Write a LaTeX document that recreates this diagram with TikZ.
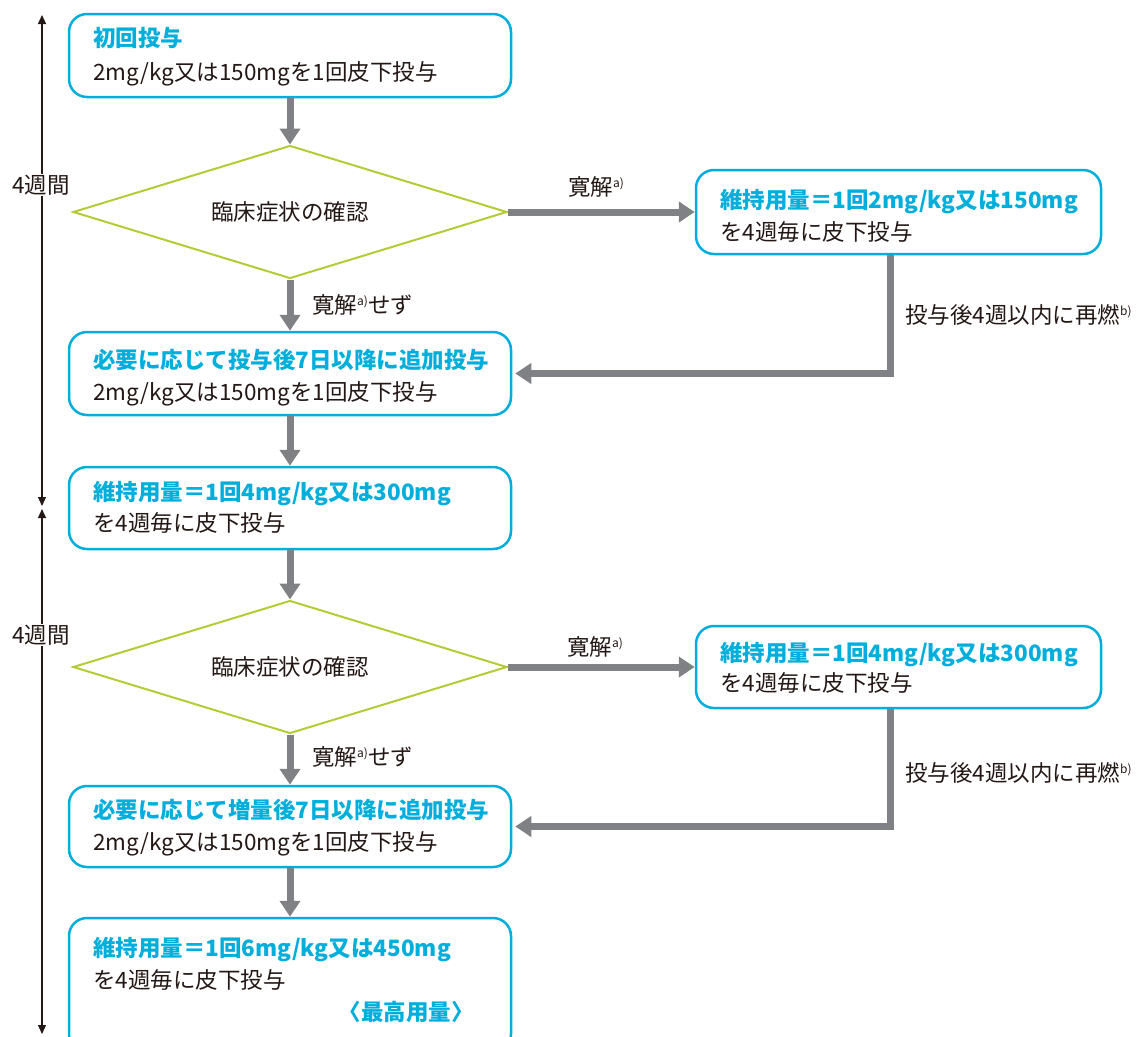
\documentclass[tikz,border=0pt]{standalone}
\usepackage{fontspec}
\setmainfont{Noto Sans CJK JP}
\usetikzlibrary{arrows.meta,shapes.geometric,calc}
\definecolor{cy}{HTML}{00AEDB}
\definecolor{yg}{HTML}{B5CB35}
\definecolor{ag}{HTML}{808184}
\definecolor{tx}{HTML}{231815}
\newcommand\fsz{\fontsize{22.5}{26}\selectfont}
\newcommand\supa[1]{\raisebox{8pt}{\fontsize{12}{12}\selectfont #1}}
\tikzset{
 box/.style={draw=cy, line width=2.5pt, rounded corners=18pt, minimum width=442pt, inner sep=0pt, fill=white},
 dia/.style={diamond, aspect=3.26, draw=yg, line width=2pt, minimum width=434pt, minimum height=133pt, inner sep=0pt, font=\fsz, text=tx},
 flow/.style={draw=ag, line width=7pt, -{Triangle[width=20pt,length=16pt]}, line join=miter},
 hd/.style={font=\fsz\bfseries, text=cy, anchor=base west, inner sep=0pt},
 bd/.style={font=\fsz, text=tx, anchor=base west, inner sep=0pt},
 lbl/.style={font=\fsz, text=tx, anchor=base west, inner sep=0pt},
 tl/.style={draw=tx, line width=1.1pt, {Triangle[width=8pt,length=9pt]}-{Triangle[width=8pt,length=9pt]}},
 wk/.style={font=\fsz, text=tx, fill=white, inner sep=1pt},
}
\begin{document}
\begin{tikzpicture}[x=1pt,y=-1pt]
\useasboundingbox (0,0) rectangle (1137,1036);
\clip (0,0) rectangle (1137,1036);
% timeline
\coordinate (t1) at (42,15);
\coordinate (t2) at (42,506);
\coordinate (t3) at (42,509);
\coordinate (t4) at (42,1034);
\draw[tl] (t1) -- (t2);
\draw[tl] (t3) -- (t4);
\node[wk] (w1) at (41,185) {4週間};
\node[wk] (w2) at (41,635) {4週間};
% boxes
\node[box, minimum height=83pt] (b1) at (290,55.5) {};
\node[dia] (d1) at (290,212) {臨床症状の確認};
\node[box, minimum width=405pt, minimum height=84pt] (r1) at (898.5,212) {};
\node[box, minimum height=83pt] (b3) at (290,373.5) {};
\node[box, minimum height=82pt] (b4) at (290,508) {};
\node[dia] (d2) at (290,667) {臨床症状の確認};
\node[box, minimum width=405pt, minimum height=82pt] (r2) at (898.5,667) {};
\node[box, minimum height=81pt] (b5) at (290,826.5) {};
\node[box, minimum height=134pt] (b6) at (290,985) {};
% texts
\node[hd] (b1a) at (93,46) {初回投与};
\node[bd] (b1b) at (93,80) {2mg/kg又は150mgを1回皮下投与};
\node[hd] (r1a) at (720,208) {維持用量＝1回2mg/kg又は150mg};
\node[bd] (r1b) at (720,240) {を4週毎に皮下投与};
\node[hd] (b3a) at (93,368) {必要に応じて投与後7日以降に追加投与};
\node[bd] (b3b) at (93,400) {2mg/kg又は150mgを1回皮下投与};
\node[hd] (b4a) at (93,500) {維持用量＝1回4mg/kg又は300mg};
\node[bd] (b4b) at (93,531) {を4週毎に皮下投与};
\node[hd] (r2a) at (720,661) {維持用量＝1回4mg/kg又は300mg};
\node[bd] (r2b) at (720,691) {を4週毎に皮下投与};
\node[hd] (b5a) at (93,818) {必要に応じて増量後7日以降に追加投与};
\node[bd] (b5b) at (93,850) {2mg/kg又は150mgを1回皮下投与};
\node[hd] (b6a) at (93,956) {維持用量＝1回6mg/kg又は450mg};
\node[bd] (b6b) at (93,988) {を4週毎に皮下投与};
\node[hd, anchor=base east] (b6c) at (474,1020) {〈最高用量〉};
% connectors
\draw[flow] (b1.south) -- (d1.north);
\draw[flow] (d1.south) -- (b3.north);
\draw[flow] (b3.south) -- (b4.north);
\draw[flow] (b4.south) -- (d2.north);
\draw[flow] (d2.south) -- (b5.north);
\draw[flow] (b5.south) -- (b6.north);
\draw[flow] (d1.east) -- (r1.west);
\draw[flow] (d2.east) -- (r2.west);
\draw[flow] ([xshift=-8.5pt]r1.south) |- ([xshift=3pt]b3.east);
\draw[flow] ([xshift=-8.5pt]r2.south) |- ([xshift=3pt]b5.east);
% labels
\node[lbl] (l1) at (568,195) {寛解\supa{a)}};
\node[lbl] (l2) at (312,313) {寛解\supa{a)}せず};
\node[lbl] (l3) at (905,323) {投与後4週以内に再燃\supa{b)}};
\node[lbl] (l4) at (567,655) {寛解\supa{a)}};
\node[lbl] (l5) at (312,765) {寛解\supa{a)}せず};
\node[lbl] (l6) at (905,781) {投与後4週以内に再燃\supa{b)}};
\end{tikzpicture}
\end{document}
